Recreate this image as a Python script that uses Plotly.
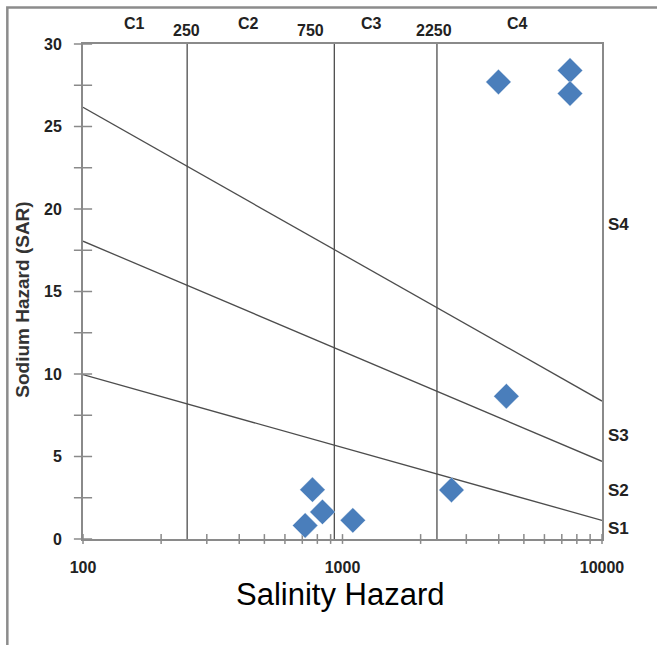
import math
import plotly.graph_objects as go

# ---- data ----
salinity = [3990, 7530, 7530, 4280, 2630, 766, 837, 718, 1096]
sar = [27.7, 28.4, 27.0, 8.65, 2.97, 2.99, 1.64, 0.82, 1.13]

s_line_x = [100, 10000]
s1_s2_line = [9.96, 1.13]
s2_s3_line = [18.05, 4.71]
s3_s4_line = [26.16, 8.36]

c_boundary_drawn = [252, 930, 2312]
c_boundary_labels = ["250", "750", "2250"]
c_boundary_label_x = [250, 750, 2250]
c_class_labels = ["C1", "C2", "C3", "C4"]
c_class_x = [158, 433, 1299, 4743]
s_class_labels = ["S1", "S2", "S3", "S4"]
s_class_y = [0.62, 2.93, 6.26, 19.06]

y_tick_vals = [0, 2.5, 5, 7.5, 10, 12.5, 15, 17.5, 20, 22.5, 25, 27.5, 30]
y_tick_text = ["0", "", "5", "", "10", "", "15", "", "20", "", "25", "", "30"]
x_tick_vals = [100, 200, 300, 400, 500, 600, 700, 800, 900, 1000,
               2000, 3000, 4000, 5000, 6000, 7000, 8000, 9000, 10000]
x_tick_text = ["100", "", "", "", "", "", "", "", "", "1000",
               "", "", "", "", "", "", "", "", "10000"]

FONT = "Liberation Sans, Arial, sans-serif"
LINE_COL = "#4d4d4d"
AXIS_COL = "#8a8a8a"
LABEL_FONT = dict(family=FONT, size=16, color="#222", weight="bold")

fig = go.Figure()

# S-class boundary lines
for ys in (s1_s2_line, s2_s3_line, s3_s4_line):
    fig.add_trace(go.Scatter(x=s_line_x, y=ys, mode="lines",
                             line=dict(color=LINE_COL, width=1.3),
                             hoverinfo="skip", showlegend=False))

# C-class boundary lines
for xb in c_boundary_drawn:
    fig.add_trace(go.Scatter(x=[xb, xb], y=[0, 30], mode="lines",
                             line=dict(color=LINE_COL, width=1.3),
                             hoverinfo="skip", showlegend=False))

# crossing ticks on the axes
fig.add_trace(go.Scatter(x=[100] * len(y_tick_vals), y=y_tick_vals, mode="markers",
                         marker=dict(symbol="line-ew-open", size=13, color=AXIS_COL,
                                     line=dict(color=AXIS_COL, width=1.5)),
                         cliponaxis=False, hoverinfo="skip", showlegend=False))
fig.add_trace(go.Scatter(x=x_tick_vals, y=[0] * len(x_tick_vals), mode="markers",
                         marker=dict(symbol="line-ns-open", size=7, color=AXIS_COL,
                                     line=dict(color=AXIS_COL, width=1.5)),
                         cliponaxis=False, hoverinfo="skip", showlegend=False))

# samples
fig.add_trace(go.Scatter(x=salinity, y=sar, mode="markers",
                         marker=dict(symbol="diamond", size=19.5, color="#4a7ebb",
                                     line=dict(color="rgba(255,255,255,0.6)", width=0.6)),
                         cliponaxis=False, showlegend=False))

# top labels (annotation x on a log axis is given in log10 units)
for lab, xv in zip(c_class_labels, c_class_x):
    fig.add_annotation(text=lab, x=math.log10(xv), y=1.042, xref="x", yref="paper",
                       showarrow=False, xanchor="center", yanchor="middle",
                       font=LABEL_FONT)
for lab, xv in zip(c_boundary_labels, c_boundary_label_x):
    fig.add_annotation(text=lab, x=math.log10(xv), y=1.027, xref="x", yref="paper",
                       showarrow=False, xanchor="center", yanchor="middle",
                       font=LABEL_FONT)
# right labels
for lab, yv in zip(s_class_labels, s_class_y):
    fig.add_annotation(text=lab, x=1.007, y=yv, xref="paper", yref="y",
                       showarrow=False, xanchor="left", yanchor="middle",
                       font=dict(family=FONT, size=17, color="#222", weight="bold"))

fig.update_xaxes(type="log", range=[2, 4], showgrid=False, zeroline=False,
                 showline=True, linecolor=AXIS_COL, linewidth=2, mirror=True,
                 ticks="", tickvals=x_tick_vals, ticktext=x_tick_text,
                 ticklabelstandoff=13, tickfont=LABEL_FONT)
fig.update_yaxes(range=[0, 30], showgrid=False, zeroline=False,
                 showline=True, linecolor=AXIS_COL, linewidth=2, mirror=True,
                 ticks="", tickvals=y_tick_vals, ticktext=y_tick_text,
                 ticklabelstandoff=16, tickfont=LABEL_FONT)

fig.add_annotation(text="Salinity Hazard", xref="paper", yref="paper",
                   x=0.4952, y=-0.112, xanchor="center", yanchor="middle",
                   showarrow=False,
                   font=dict(family=FONT, size=31, color="#000"))
fig.add_annotation(text="Sodium Hazard (SAR)", xref="paper", yref="paper",
                   x=-0.117, y=0.484, xanchor="center", yanchor="middle",
                   textangle=-90, showarrow=False,
                   font=dict(family=FONT, size=19, color="#333", weight="bold"))

# outer frame of the picture
fig.add_shape(type="path", xref="paper", yref="paper",
              path="M -0.1458 -0.25 L -0.1458 1.0738 L 1.12 1.0738",
              line=dict(color="#8c8c8c", width=2.5))

fig.update_layout(width=657, height=645, plot_bgcolor="white", paper_bgcolor="white",
                  margin=dict(l=83, r=55, t=44, b=106))

fig.write_html("out.html")
